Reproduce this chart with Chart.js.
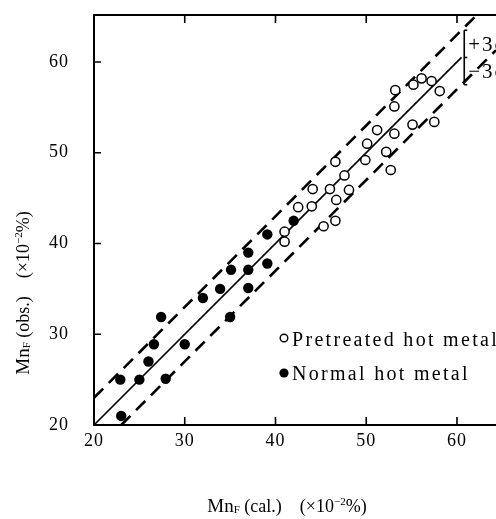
<!DOCTYPE html>
<html>
<head>
<meta charset="utf-8">
<script src="https://cdn.jsdelivr.net/npm/chart.js@4.4.1/dist/chart.umd.min.js"></script>
<style>
  html, body { margin: 0; padding: 0; background: #fff; }
  canvas { display: block; }
</style>
</head>
<body>
<canvas id="mnChart" width="496" height="519"></canvas>
<script>
// Pretreated hot metal (open circles)
const pretreatedX = [53.2, 55.2, 56.1, 57.2, 58.1, 53.1, 55.1, 57.5, 51.2, 53.1, 50.1, 52.2, 49.9,
                     52.7, 46.6, 47.6, 46.0, 48.1, 44.1, 46.7, 42.5, 44.0, 45.3, 46.6, 41.0, 41.0];
const pretreatedY = [56.9, 57.5, 58.2, 57.9, 56.8, 55.1, 53.1, 53.4, 52.5, 52.1, 51.0, 50.1, 49.2,
                     48.1, 49.0, 47.5, 46.0, 45.9, 46.0, 44.8, 44.0, 44.1, 41.9, 42.5, 41.3, 40.2];

// Normal hot metal (filled circles)
const normalX = [42.0, 39.1, 37.0, 39.1, 35.1, 37.0, 33.9, 37.0, 32.0, 35.0, 27.4, 26.6, 30.0,
                 26.0, 22.9, 25.0, 27.9, 23.0];
const normalY = [42.5, 41.0, 39.0, 37.8, 37.1, 37.1, 35.0, 35.1, 34.0, 31.9, 31.9, 28.9, 28.9,
                 27.0, 25.0, 25.0, 25.1, 21.0];

// y = x line and +/-3 sigma band (end points)
const solidLine = [[20, 20], [60.5, 60.5]];
const upperLine = [[20, 23], [62.2, 65.2]];
const lowerLine = [[23, 20], [64.3, 61.3]];
const sigmaBar = [[60.8, 63.5], [60.8, 60.5], [60.8, 57.5]];

const xTicks = [20, 30, 40, 50, 60];
const yTicks = [20, 30, 40, 50, 60];
const innerTicks = [30, 40, 50, 60];

const FONT = '"Liberation Serif", "DejaVu Serif", serif';

const toPoints = (xs, ys) => xs.map((x, i) => ({ x: x, y: ys[i] }));
const pairs = arr => arr.map(p => ({ x: p[0], y: p[1] }));

// draw a run of text pieces with different sizes / offsets
const richWidth = (ctx, parts) => {
    let w = 0;
    parts.forEach(p => {
        ctx.font = p.size + 'px ' + FONT;
        ctx.letterSpacing = (p.ls || 0) + 'px';
        w += ctx.measureText(p.t).width;
    });
    return w;
};
const drawRich = (ctx, parts, cx, cy) => {
    let x = cx - richWidth(ctx, parts) / 2;
    parts.forEach(p => {
        ctx.font = p.size + 'px ' + FONT;
        ctx.letterSpacing = (p.ls || 0) + 'px';
        ctx.fillText(p.t, x, cy + (p.dy || 0));
        x += ctx.measureText(p.t).width;
    });
    ctx.letterSpacing = '0px';
};

const frame = {
    id: 'frame',
    afterDraw(chart) {
        const ctx = chart.ctx;
        const a = chart.chartArea;
        const xs = chart.scales.x, ys = chart.scales.y;
        ctx.save();
        ctx.strokeStyle = '#000';
        ctx.fillStyle = '#000';
        ctx.lineWidth = 2;

        // axes: left, top, bottom (right side runs off the picture)
        ctx.beginPath();
        ctx.moveTo(a.right + 2, a.top);
        ctx.lineTo(a.left, a.top);
        ctx.lineTo(a.left, a.bottom);
        ctx.lineTo(a.right + 2, a.bottom);
        ctx.stroke();

        // inward ticks
        ctx.lineWidth = 1.6;
        ctx.beginPath();
        innerTicks.forEach(v => {
            const px = xs.getPixelForValue(v);
            ctx.moveTo(px, a.bottom); ctx.lineTo(px, a.bottom - 8);
            ctx.moveTo(px, a.top); ctx.lineTo(px, a.top + 8);
            const py = ys.getPixelForValue(v);
            ctx.moveTo(a.left, py); ctx.lineTo(a.left + 7, py);
        });
        ctx.stroke();

        // tick labels
        ctx.font = '18px ' + FONT;
        ctx.letterSpacing = '1px';
        ctx.textBaseline = 'middle';
        ctx.textAlign = 'center';
        xTicks.forEach(v => ctx.fillText(String(v), xs.getPixelForValue(v), a.bottom + 16));
        ctx.textAlign = 'right';
        yTicks.forEach(v => ctx.fillText(String(v), a.left - 25, ys.getPixelForValue(v)));
        ctx.letterSpacing = '0px';

        // axis titles
        ctx.textAlign = 'left';
        ctx.textBaseline = 'alphabetic';
        drawRich(ctx, [
            { t: 'Mn', size: 19 }, { t: 'F', size: 11, dy: 1 },
            { t: ' (cal.)    (×10', size: 18 }, { t: '−2', size: 11, dy: -7 }, { t: '%)', size: 18 }
        ], 287, 512);
        ctx.save();
        ctx.translate(29, 293);
        ctx.rotate(-Math.PI / 2);
        drawRich(ctx, [
            { t: 'Mn', size: 19 }, { t: 'F', size: 11, dy: 1 },
            { t: ' (obs.)    (×10', size: 18 }, { t: '−2', size: 11, dy: -7 }, { t: '%)', size: 18 }
        ], 0, 0);
        ctx.restore();

        // legend
        ctx.lineWidth = 1.4;
        ctx.beginPath();
        ctx.arc(284, 338, 3.8, 0, Math.PI * 2);
        ctx.stroke();
        ctx.beginPath();
        ctx.arc(284, 373, 4.6, 0, Math.PI * 2);
        ctx.fill();
        ctx.font = '20px ' + FONT;
        ctx.letterSpacing = '2.3px';
        ctx.fillText('Pretreated hot metal', 292, 346);
        ctx.fillText('Normal hot metal', 292, 380);

        // sigma labels beside the bar
        ctx.font = '21px ' + FONT;
        ctx.letterSpacing = '2px';
        const bx = xs.getPixelForValue(sigmaBar[0][0]);
        ctx.fillText('+3σ', bx + 4, ys.getPixelForValue(62) + 7);
        ctx.fillText('−3σ', bx + 4, ys.getPixelForValue(59) + 7);
        ctx.restore();
    }
};

const ctx = document.getElementById('mnChart').getContext('2d');
new Chart(ctx, {
    type: 'scatter',
    data: {
        datasets: [{
            label: 'Pretreated hot metal',
            data: toPoints(pretreatedX, pretreatedY),
            pointRadius: 4.6,
            pointBorderWidth: 1.5,
            pointBackgroundColor: '#fff',
            pointBorderColor: '#000',
            order: 1
        }, {
            label: 'Normal hot metal',
            data: toPoints(normalX, normalY),
            pointRadius: 5.2,
            pointBorderWidth: 0,
            pointBackgroundColor: '#000',
            pointBorderColor: '#000',
            order: 1
        }, {
            label: 'y = x',
            data: pairs(solidLine),
            showLine: true,
            borderColor: '#000',
            borderWidth: 1.7,
            pointRadius: 0,
            order: 3
        }, {
            label: '+3 sigma',
            data: pairs(upperLine),
            showLine: true,
            borderColor: '#000',
            borderWidth: 2.6,
            borderDash: [13, 8],
            pointRadius: 0,
            order: 3
        }, {
            label: '-3 sigma',
            data: pairs(lowerLine),
            showLine: true,
            borderColor: '#000',
            borderWidth: 2.6,
            borderDash: [13, 8],
            pointRadius: 0,
            order: 3
        }, {
            label: 'sigma bar',
            data: pairs(sigmaBar),
            showLine: true,
            borderColor: '#000',
            borderWidth: 1.6,
            pointStyle: 'dash',
            pointRadius: 3,
            pointBorderWidth: 1.6,
            pointBorderColor: '#000',
            order: 2
        }]
    },
    options: {
        responsive: false,
        animation: false,
        devicePixelRatio: 1,
        layout: { autoPadding: false, padding: { left: 94, top: 15, right: 0, bottom: 94 } },
        scales: {
            x: { type: 'linear', min: 20, max: 64.3, display: false },
            y: { type: 'linear', min: 20, max: 65.18, display: false }
        },
        plugins: {
            legend: { display: false },
            tooltip: { enabled: false }
        },
        clip: false
    },
    plugins: [frame]
});
</script>
</body>
</html>
